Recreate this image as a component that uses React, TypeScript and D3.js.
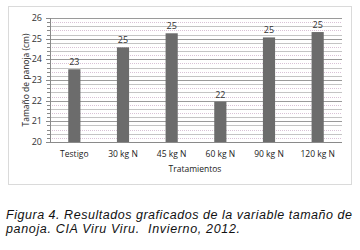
import React from "react";
import * as d3 from "d3";

const categories = ["Testigo", "30 kg N", "45 kg N", "60 kg N", "90 kg N", "120 kg N"];
const values = [23.52, 24.58, 25.26, 21.95, 25.06, 25.32];
const valueLabels = ["23", "25", "25", "22", "25", "25"];
const yTicks = [20, 21, 22, 23, 24, 25, 26];

export default function App() {
  const W = 360, H = 250;
  const left = 50, right = 342, top = 18, bottom = 142;
  const x = d3.scaleBand<string>().domain(categories).range([left, right]).paddingInner(0.75).paddingOuter(0.375);
  const y = d3.scaleLinear().domain([20, 26]).range([bottom, top]);
  const minor = d3.range(20, 26.001, 0.2).map((v) => +v.toFixed(1));
  const font = "'Open Sans', 'Liberation Sans', sans-serif";
  const capFont = "'Liberation Sans', Arial, sans-serif";
  return (
    <svg width={W} height={H} style={{ position: "absolute", left: 0, top: 0, background: "#fff" }}>
      <rect x={8.5} y={6.5} width={343} height={178} fill="#fff" stroke="#b5b5b5" strokeDasharray="1,1" />
      {minor.map((v, i) => (
        <line key={"m" + i} x1={left} x2={right} y1={Math.round(y(v)) + 0.5} y2={Math.round(y(v)) + 0.5}
          stroke={Number.isInteger(v) ? "#9a9a9a" : i % 2 ? "#d9c2d6" : "#c4c4c4"}
          strokeDasharray={!Number.isInteger(v) && i % 2 ? "1,1" : undefined} strokeWidth={1} />
      ))}
      {minor.map((v, i) => (
        <line key={"t" + i} x1={left - (Number.isInteger(v) ? 4 : 3)} x2={left} y1={Math.round(y(v)) + 0.5} y2={Math.round(y(v)) + 0.5} stroke="#8a8a8a" />
      ))}
      <line x1={left + 0.5} x2={left + 0.5} y1={top} y2={bottom} stroke="#8a8a8a" />
      <line x1={left} x2={right} y1={bottom + 0.5} y2={bottom + 0.5} stroke="#8a8a8a" />
      {yTicks.map((t) => (
        <text key={t} x={left - 8} y={y(t) + 3} textAnchor="end" fontSize={9} fontFamily={font} fill="#333">{t}</text>
      ))}
      {categories.map((c, i) => (
        <g key={c}>
          <rect x={x(c)} y={y(values[i])} width={x.bandwidth()} height={bottom - y(values[i])} fill="#6c6c6c" />
          <text x={(x(c) as number) + x.bandwidth() / 2} y={y(values[i]) - 4} textAnchor="middle" fontSize={9} fontFamily={font} fill="#333">{valueLabels[i]}</text>
          <text x={(x(c) as number) + x.bandwidth() / 2} y={157} textAnchor="middle" fontSize={8.5} fontFamily={font} fill="#222">{c}</text>
        </g>
      ))}
      <text x={195} y={172} textAnchor="middle" fontSize={8.5} fontFamily={font} fill="#222">Tratamientos</text>
      <text transform="translate(29,80) rotate(-90)" textAnchor="middle" fontSize={8.5} fontFamily={font} fill="#222">Tamaño de panoja (cm)</text>
      <text x={6} y={218.5} fontSize={12.5} fontStyle="italic" fontFamily={capFont} fill="#111" textLength={346} lengthAdjust="spacing">Figura 4. Resultados graficados de la variable tamaño de</text>
      <text x={6} y={233} fontSize={12.5} fontStyle="italic" fontFamily={capFont} fill="#111" textLength={234} lengthAdjust="spacing">{"panoja. CIA Viru Viru.\u00a0 Invierno, 2012."}</text>
    </svg>
  );
}
